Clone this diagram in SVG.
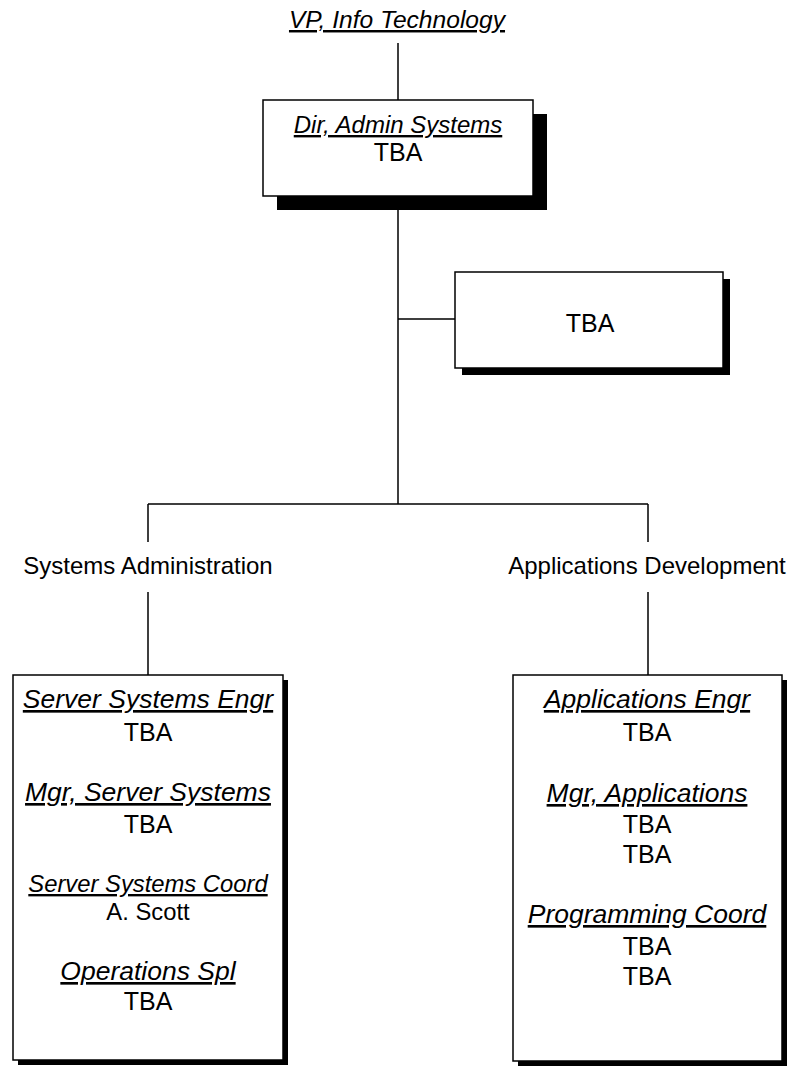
<svg xmlns="http://www.w3.org/2000/svg" width="793" height="1066" viewBox="0 0 793 1066">
<style>
text{font-family:"Liberation Sans",Arial,sans-serif;font-size:24px;text-anchor:middle;fill:#000}
.t{font-style:italic;text-decoration:underline}
.b{font-size:26.5px}
.n{font-size:25px}
.s{font-size:23.8px}
.box{fill:#fff;stroke:#000;stroke-width:1.5}
.sh{fill:#000}
.c{fill:none;stroke:#000;stroke-width:1.5}
</style>
<rect width="793" height="1066" fill="#fff"/>
<g id="connectors">
<path class="c" d="M398,43V100M398,196V504M398,319H455M148,504H648M148,504V542M648,504V542M148,592V675M648,592V675"/>
</g>
<g id="vp">
<text class="t" x="397" y="28" style="font-size:24.6px">VP, Info Technology</text>
</g>
<g id="dir">
<rect class="sh" x="277" y="114" width="270" height="96"/>
<rect class="box" x="263" y="100" width="270" height="96"/>
<text class="t" x="398" y="133">Dir, Admin Systems</text>
<text class="n" x="398" y="161">TBA</text>
</g>
<g id="assistant">
<rect class="sh" x="462" y="279" width="268" height="96"/>
<rect class="box" x="455" y="272" width="268" height="96"/>
<text class="n" x="590" y="332">TBA</text>
</g>
<g id="sysadmin">
<text x="148" y="574">Systems Administration</text>
</g>
<g id="appdev">
<text x="647" y="574">Applications Development</text>
</g>
<g id="sysbox">
<rect class="sh" x="18" y="680" width="270" height="385"/>
<rect class="box" x="13" y="675" width="270" height="385"/>
<text class="t b" x="148" y="708">Server Systems Engr</text>
<text class="n" x="148" y="741">TBA</text>
<text class="t b" x="148" y="801">Mgr, Server Systems</text>
<text class="n" x="148" y="833">TBA</text>
<text class="t s" x="148" y="892">Server Systems Coord</text>
<text class="s" x="148" y="920">A. Scott</text>
<text class="t b" x="148" y="980">Operations Spl</text>
<text class="n" x="148" y="1010">TBA</text>
</g>
<g id="appbox">
<rect class="sh" x="518" y="680" width="269" height="386"/>
<rect class="box" x="513" y="675" width="269" height="386"/>
<text class="t b" x="647" y="708">Applications Engr</text>
<text class="n" x="647" y="741">TBA</text>
<text class="t b" x="647" y="802">Mgr, Applications</text>
<text class="n" x="647" y="833">TBA</text>
<text class="n" x="647" y="863">TBA</text>
<text class="t b" x="647" y="923">Programming Coord</text>
<text class="n" x="647" y="955">TBA</text>
<text class="n" x="647" y="985">TBA</text>
</g>
</svg>
